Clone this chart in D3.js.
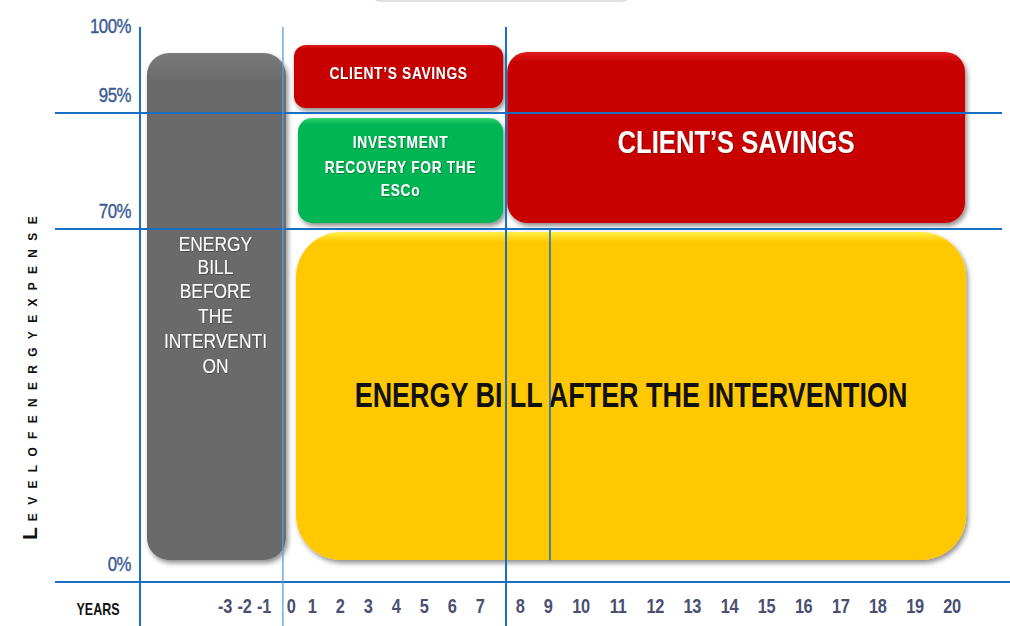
<!DOCTYPE html>
<html>
<head>
<meta charset="utf-8">
<script src="https://cdn.jsdelivr.net/npm/d3@7"></script>
<style>
  html, body { margin: 0; padding: 0; background: #fff; }
  svg { display: block; }
</style>
</head>
<body>
<div id="chart"></div>
<script>
// years on the bottom axis and the level ticks on the left
var years = [-3, -2, -1, 0, 1, 2, 3, 4, 5, 6, 7, 8, 9, 10, 11, 12, 13, 14, 15, 16, 17, 18, 19, 20];
var levelTicks = [0, 70, 95, 100];
var levelLabels = ['0%', '70%', '95%', '100%'];

// blocks: extent in years and in % of energy expense
var blockNames = ['before', 'savingsSmall', 'recovery', 'savingsBig', 'after'];
var blockYears = [[-7.0, -0.19], [0.14, 7.58], [0.33, 7.58], [7.68, 20.35], [0.24, 20.38]];
var blockLevels = [[4.36, 99.35], [95.36, 99.93], [71.3, 93.9], [71.3, 99.42], [4.36, 69.4]];
var blockLabels = [
    ['ENERGY', 'BILL', 'BEFORE', 'THE', 'INTERVENTI', 'ON'],
    ['CLIENT\u2019S SAVINGS'],
    ['INVESTMENT', 'RECOVERY FOR THE', 'ESCo'],
    ['CLIENT\u2019S SAVINGS'],
    ['ENERGY BI LL AFTER THE INTERVENTION']
];

// phase boundaries (years) and level grid lines (%)
var phaseLines = [-7.36, -0.3, 7.65];
var levelLines = [95, 70, 0];

var width = 1010, height = 626;

var svg = d3.select('#chart').append('svg')
    .attr('width', width)
    .attr('height', height);

var defs = svg.append('defs');
var shadow = defs.append('filter').attr('id', 'shadow')
    .attr('x', '-10%').attr('y', '-10%').attr('width', '125%').attr('height', '125%');
shadow.append('feDropShadow')
    .attr('dx', 2).attr('dy', 3).attr('stdDeviation', 2.5)
    .attr('flood-color', '#000').attr('flood-opacity', 0.45);

var glow = defs.append('filter').attr('id', 'glow')
    .attr('x', '-10%').attr('y', '-30%').attr('width', '120%').attr('height', '160%');
glow.append('feDropShadow')
    .attr('dx', 0.6).attr('dy', 0.6).attr('stdDeviation', 0.6)
    .attr('flood-color', '#000').attr('flood-opacity', 0.5);

var colors = {
    before: ['#7a7a7a', '#6a6a6a'],
    savingsSmall: ['#e01a1a', '#c80404'],
    recovery: ['#2fd36e', '#04b552'],
    savingsBig: ['#e01a1a', '#c80404'],
    after: ['#fff04a', '#ffc800']
};
blockNames.forEach(function(n) {
    var g = defs.append('linearGradient').attr('id', 'grad-' + n)
        .attr('x1', 0).attr('y1', 0).attr('x2', 0).attr('y2', 1);
    g.append('stop').attr('offset', 0).attr('stop-color', colors[n][0]);
    g.append('stop').attr('offset', n === 'after' ? 0.03 : 0.06).attr('stop-color', colors[n][1]);
    g.append('stop').attr('offset', 1).attr('stop-color', colors[n][1]);
});

// the axis is not linear: each stretch of years has its own width
var xScale = d3.scaleLinear()
    .domain([-3, -1, 0, 1, 7, 8, 9, 10, 20])
    .range([225, 264, 291, 312, 480, 520, 548, 581, 952]);

var yScale = d3.scaleLinear()
    .domain([0, 70, 95, 100])
    .range([582, 229, 113, 44]);

var radius = { before: 22, savingsSmall: 12, recovery: 14, savingsBig: 20, after: 45 };

// faint frame of the title box at the very top
svg.append('rect')
    .attr('x', 372).attr('y', -30)
    .attr('width', 258).attr('height', 31)
    .attr('rx', 8)
    .attr('fill', 'none')
    .attr('stroke', '#d8d8d8')
    .attr('stroke-width', 1.5);

// blocks
var blocks = svg.append('g').selectAll('g')
    .data(blockNames.map(function(n, i) {
        return { name: n, yr: blockYears[i], lv: blockLevels[i], lines: blockLabels[i] };
    }))
    .join('g');

blocks.append('rect')
    .attr('x', function(d) { return xScale(d.yr[0]); })
    .attr('y', function(d) { return yScale(d.lv[1]); })
    .attr('width', function(d) { return xScale(d.yr[1]) - xScale(d.yr[0]); })
    .attr('height', function(d) { return yScale(d.lv[0]) - yScale(d.lv[1]); })
    .attr('rx', function(d) { return radius[d.name]; })
    .attr('fill', function(d) { return 'url(#grad-' + d.name + ')'; })
    .attr('filter', 'url(#shadow)');

// grid lines
var grid = svg.append('g');
grid.selectAll('line.h')
    .data(levelLines)
    .join('line')
    .attr('class', 'h')
    .attr('x1', 55)
    .attr('x2', function(d) { return d === 0 ? width : 1002; })
    .attr('y1', function(d) { return yScale(d); })
    .attr('y2', function(d) { return yScale(d); })
    .attr('stroke', '#1a6fc2')
    .attr('stroke-width', 2);

grid.selectAll('line.v')
    .data(phaseLines)
    .join('line')
    .attr('class', 'v')
    .attr('x1', function(d) { return xScale(d); })
    .attr('x2', function(d) { return xScale(d); })
    .attr('y1', 27)
    .attr('y2', height)
    .attr('stroke', function(d, i) { return i === 1 ? '#5a9fd8' : '#1a6fc2'; })
    .attr('stroke-width', function(d, i) { return i === 1 ? 1.3 : 2; });

// short divider inside the yellow block (year 9)
grid.append('line')
    .attr('x1', xScale(9.06)).attr('x2', xScale(9.06))
    .attr('y1', yScale(70)).attr('y2', yScale(4.3))
    .attr('stroke', '#1a6fc2')
    .attr('stroke-width', 1.6);

// block labels (the original font is a narrow one, so squeeze horizontally)
var font = '"Liberation Sans", Arial, sans-serif';

function cx(d) { return (xScale(d.yr[0]) + xScale(d.yr[1])) / 2; }

var labelStyle = {
    before: { size: 20, weight: 400, fill: '#fff', sx: 0.87, dx: -1, base: [251, 274, 298, 323, 348, 373], ls: 0, glow: true },
    savingsSmall: { size: 16, weight: 700, fill: '#fff', sx: 0.86, dx: 0, base: [79], ls: 0.8, glow: true },
    recovery: { size: 16, weight: 700, fill: '#fff', sx: 0.86, dx: 0, base: [148, 173, 196], ls: 0.8, glow: true },
    savingsBig: { size: 32, weight: 700, fill: '#fff', sx: 0.8, dx: 0, base: [153], ls: 0, glow: true },
    after: { size: 35, weight: 700, fill: '#111', sx: 0.77, dx: 0, base: [407], ls: 0, glow: false }
};

blocks.each(function(d) {
    var s = labelStyle[d.name];
    var g = d3.select(this);
    d.lines.forEach(function(line, i) {
        g.append('text')
            .attr('transform', 'translate(' + (cx(d) + s.dx) + ',' + s.base[i] + ') scale(' + s.sx + ',1)')
            .attr('text-anchor', 'middle')
            .attr('font-family', font)
            .attr('font-size', s.size)
            .attr('font-weight', s.weight)
            .attr('letter-spacing', s.ls)
            .attr('fill', s.fill)
            .attr('filter', s.glow ? 'url(#glow)' : null)
            .text(line);
    });
});

// level tick labels
svg.append('g').selectAll('text')
    .data(levelTicks)
    .join('text')
    .attr('transform', function(d) { return 'translate(131,' + (yScale(d) - 11) + ') scale(0.8,1)'; })
    .attr('text-anchor', 'end')
    .attr('font-family', font)
    .attr('font-size', 21)
    .attr('letter-spacing', -0.6)
    .attr('fill', '#3b5a92')
    .attr('stroke', '#3b5a92')
    .attr('stroke-width', 0.4)
    .text(function(d, i) { return levelLabels[i]; });

// year tick labels
svg.append('g').selectAll('text')
    .data(years)
    .join('text')
    .attr('transform', function(d) { return 'translate(' + xScale(d) + ',613) scale(0.78,1)'; })
    .attr('text-anchor', 'middle')
    .attr('font-family', font)
    .attr('font-size', 21)
    .attr('font-weight', 700)
    .attr('letter-spacing', -0.5)
    .attr('fill', '#4b5073')
    .text(function(d) { return d; });

svg.append('text')
    .attr('transform', 'translate(98,615) scale(0.78,1)')
    .attr('text-anchor', 'middle')
    .attr('font-family', font)
    .attr('font-size', 16)
    .attr('font-weight', 700)
    .attr('fill', '#111')
    .text('YEARS');

// y title in small caps
var yTitle = svg.append('text')
    .attr('transform', 'translate(37,' + 374 + ') rotate(-90)')
    .attr('text-anchor', 'middle')
    .attr('font-family', font)
    .attr('font-weight', 700)
    .attr('fill', '#111');
yTitle.append('tspan').attr('font-size', 21).attr('letter-spacing', 6).text('L');
yTitle.append('tspan').attr('font-size', 12).attr('letter-spacing', 8.3).text('EVELOFENERGYEXPENSE');
</script>
</body>
</html>
